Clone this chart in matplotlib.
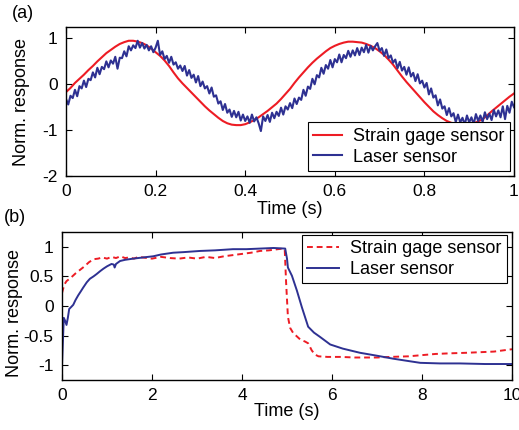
import numpy as np
import matplotlib
matplotlib.use('Agg')
import matplotlib.pyplot as plt

plt.rcParams['font.family'] = ['Liberation Sans', 'DejaVu Sans']
plt.rcParams['axes.unicode_minus'] = False

## data --------------------------------------------------------------

# (a) sinusoidal excitation, 0..1 s
strain_a = [-0.17, -0.08, 0.03, 0.12, 0.21, 0.31, 0.40, 0.50, 0.59, 0.68,
            0.75, 0.82, 0.88, 0.92, 0.95, 0.95, 0.93, 0.90, 0.85, 0.78,
            0.70, 0.62, 0.52, 0.40, 0.26, 0.13, 0.02, -0.08, -0.18, -0.28,
            -0.38, -0.48, -0.57, -0.65, -0.73, -0.80, -0.85, -0.88, -0.89, -0.89,
            -0.87, -0.83, -0.78, -0.72, -0.65, -0.58, -0.50, -0.42, -0.32, -0.21,
            -0.10, 0.03, 0.15, 0.26, 0.37, 0.47, 0.56, 0.64, 0.72, 0.79,
            0.84, 0.88, 0.91, 0.93, 0.93, 0.92, 0.91, 0.88, 0.84, 0.79,
            0.72, 0.64, 0.54, 0.43, 0.30, 0.17, 0.05, -0.06, -0.17, -0.28,
            -0.39, -0.49, -0.59, -0.67, -0.74, -0.80, -0.84, -0.86, -0.87, -0.87,
            -0.86, -0.85, -0.81, -0.76, -0.68, -0.59, -0.51, -0.43, -0.35, -0.27,
            -0.20]

# laser signal is noisy, one value every 5 ms
laser_a = [-0.32, -0.44, -0.25, -0.30, -0.12, -0.26, -0.04, -0.09, 0.08, -0.06,
           0.12, 0.09, 0.26, 0.15, 0.36, 0.22, 0.38, 0.33, 0.50, 0.37,
           0.52, 0.45, 0.60, 0.34, 0.58, 0.57, 0.72, 0.61, 0.83, 0.74,
           0.85, 0.79, 0.95, 0.80, 0.90, 0.78, 0.86, 0.74, 0.83, 0.70,
           0.80, 0.95, 0.64, 0.72, 0.55, 0.62, 0.47, 0.60, 0.43, 0.48,
           0.34, 0.41, 0.29, 0.40, 0.19, 0.31, 0.14, 0.21, 0.04, 0.18,
           -0.04, 0.06, -0.09, -0.04, -0.20, -0.07, -0.27, -0.24, -0.42, -0.37,
           -0.56, -0.43, -0.62, -0.55, -0.71, -0.58, -0.72, -0.60, -0.79, -0.66,
           -0.80, -0.70, -0.84, -0.66, -0.81, -0.72, -0.85, -1.02, -0.70, -0.80,
           -0.67, -0.82, -0.62, -0.74, -0.60, -0.69, -0.51, -0.66, -0.48, -0.55,
           -0.41, -0.52, -0.31, -0.43, -0.29, -0.34, -0.12, -0.25, -0.05, -0.10,
           0.12, 0.00, 0.20, 0.15, 0.36, 0.23, 0.42, 0.34, 0.53, 0.37,
           0.55, 0.48, 0.65, 0.48, 0.64, 0.57, 0.73, 0.60, 0.74, 0.63,
           0.79, 0.64, 0.80, 0.70, 0.86, 0.69, 0.84, 0.74, 0.83, 0.90,
           0.73, 0.79, 0.62, 0.76, 0.57, 0.63, 0.47, 0.54, 0.35, 0.49,
           0.30, 0.38, 0.21, 0.37, 0.17, 0.25, 0.07, 0.22, 0.02, 0.08,
           -0.07, 0.03, -0.22, -0.09, -0.29, -0.24, -0.46, -0.33, -0.53, -0.48,
           -0.67, -0.52, -0.70, -0.63, -0.82, -0.66, -0.83, -0.73, -0.88, -0.68,
           -0.83, -0.72, -0.87, -0.65, -0.80, -0.68, -0.82, -0.61, -0.76, -0.64,
           -0.78, -0.56, -0.70, -0.57, -0.72, -0.48, -0.76, -0.47, -0.62, -0.38,
           -0.50]

# (b) step response, 0..10 s
t_strain_b = [0.0, 0.05, 0.1, 0.2, 0.3, 0.4, 0.5, 0.6, 0.7, 0.8,
              0.9, 1.0, 1.1, 1.2, 1.3, 1.4, 1.5, 1.6, 1.7, 1.8,
              2.0, 2.2, 2.4, 2.6, 2.8, 3.0, 3.2, 3.4, 3.6, 3.8,
              4.0, 4.2, 4.4, 4.6, 4.8, 4.9, 4.95, 4.98, 5.02, 5.07,
              5.14, 5.2, 5.3, 5.4, 5.47, 5.55, 5.62, 5.7, 5.9, 6.2,
              6.5, 7.0, 7.3, 7.7, 8.0, 8.3, 8.6, 9.0, 9.3, 9.6,
              9.8, 10.0]
strain_b = [0.22, 0.36, 0.42, 0.48, 0.55, 0.61, 0.67, 0.74, 0.79, 0.80,
            0.82, 0.80, 0.83, 0.81, 0.84, 0.81, 0.82, 0.80, 0.83, 0.82,
            0.80, 0.83, 0.81, 0.80, 0.82, 0.80, 0.83, 0.81, 0.84, 0.86,
            0.88, 0.90, 0.93, 0.94, 0.96, 0.97, 0.95, 0.40, -0.18, -0.37,
            -0.46, -0.50, -0.57, -0.60, -0.63, -0.75, -0.82, -0.85, -0.86, -0.86,
            -0.87, -0.87, -0.86, -0.85, -0.83, -0.81, -0.80, -0.79, -0.78, -0.77,
            -0.75, -0.73]

t_laser_b = [0.0, 0.02, 0.04, 0.07, 0.1, 0.13, 0.16, 0.2, 0.25, 0.3,
             0.36, 0.42, 0.47, 0.55, 0.62, 0.7, 0.77, 0.85, 0.92, 1.0,
             1.1, 1.15, 1.17, 1.2, 1.29, 1.4, 1.58, 1.8, 2.03, 2.2,
             2.47, 2.7, 3.07, 3.4, 3.8, 4.1, 4.4, 4.7, 4.96, 5.0,
             5.02, 5.11, 5.22, 5.33, 5.47, 5.6, 5.73, 5.96, 6.24, 6.62,
             7.0, 7.36, 7.7, 7.96, 8.4, 8.84, 9.4, 9.96, 10.0]
laser_b = [-1.0, -0.6, -0.2, -0.25, -0.32, -0.20, -0.05, -0.02, 0.02, 0.10,
           0.18, 0.25, 0.31, 0.40, 0.46, 0.50, 0.54, 0.59, 0.63, 0.67,
           0.71, 0.70, 0.65, 0.71, 0.76, 0.78, 0.80, 0.82, 0.84, 0.87,
           0.90, 0.91, 0.93, 0.94, 0.96, 0.96, 0.97, 0.98, 0.97, 0.80,
           0.65, 0.51, 0.26, -0.02, -0.35, -0.45, -0.52, -0.65, -0.72, -0.79,
           -0.84, -0.89, -0.93, -0.96, -0.97, -0.97, -0.98, -0.98, -0.98]

labels = ['Strain gage sensor', 'Laser sensor']
RED = '#ED1C24'
BLUE = '#2E3192'

## figure ------------------------------------------------------------
fig = plt.figure(figsize=(5.19, 4.3), dpi=100)

def style_axes(ax):
    ax.tick_params(direction='in', top=True, right=True, length=4,
                   labelsize=12.5, pad=6, width=0.8)
    for s in ax.spines.values():
        s.set_linewidth(1.0)

# (a)
ax = fig.add_axes([66/519, 1 - 176/430, 448/519, 149/430])
t_a_strain = np.linspace(0, 1, len(strain_a))
t_a_laser = np.linspace(0, 1, len(laser_a))
ax.plot(t_a_strain, strain_a, color=RED, lw=1.5, label=labels[0])
ax.plot(t_a_laser, laser_a, color=BLUE, lw=1.5, label=labels[1])
ax.set_xlim(0, 1)
ax.set_ylim(-2, 1.25)
ax.set_xticks([0, 0.2, 0.4, 0.6, 0.8, 1])
ax.set_xticklabels(['0', '0.2', '0.4', '0.6', '0.8', '1'])
ax.set_yticks([-2, -1, 0, 1])
ax.set_yticklabels(['-2', '-1', '0', '1'])
style_axes(ax)
ax.set_xlabel('Time (s)', fontsize=13)
ax.xaxis.set_label_coords(0.5, -33/149)
ax.xaxis.label.set_va('center')
ax.set_ylabel('Norm. response', fontsize=13)
ax.yaxis.set_label_coords(-44/448, 0.5)
ax.yaxis.label.set_va('center')
ax.legend(loc='lower right', bbox_to_anchor=(0.991, 0.034), borderaxespad=0,
          fontsize=13, frameon=True, fancybox=False, edgecolor='black',
          framealpha=1, borderpad=0.3, labelspacing=0.2, handlelength=1.6,
          handletextpad=0.6).get_frame().set_linewidth(0.8)
fig.text(23/519, 1 - 14/430, '(a)', fontsize=13, ha='center', va='center')

# (b)
ax = fig.add_axes([62/519, 1 - 380/430, 450/519, 148/430])
ax.plot(t_strain_b, strain_b, color=RED, lw=1.4, ls=(0, (3, 2)), label=labels[0])
ax.plot(t_laser_b, laser_b, color=BLUE, lw=1.4, label=labels[1])
ax.set_xlim(0, 10)
ax.set_ylim(-1.25, 1.25)
ax.set_xticks([0, 2, 4, 6, 8, 10])
ax.set_yticks([-1, -0.5, 0, 0.5, 1])
ax.set_yticklabels(['-1', '-0.5', '0', '0.5', '1'])
style_axes(ax)
ax.set_xlabel('Time (s)', fontsize=13)
ax.xaxis.set_label_coords(0.5, -32/148)
ax.xaxis.label.set_va('center')
ax.set_ylabel('Norm. response', fontsize=13)
ax.yaxis.set_label_coords(-47/450, 0.45)
ax.yaxis.label.set_va('center')
ax.legend(loc='upper right', bbox_to_anchor=(0.989, 0.98), borderaxespad=0,
          fontsize=13, frameon=True, fancybox=False, edgecolor='black',
          framealpha=1, borderpad=0.3, labelspacing=0.2, handlelength=1.8,
          handletextpad=0.6).get_frame().set_linewidth(0.8)
fig.text(15/519, 1 - 217/430, '(b)', fontsize=13, ha='center', va='center')

fig.savefig('out.png', dpi=100)
